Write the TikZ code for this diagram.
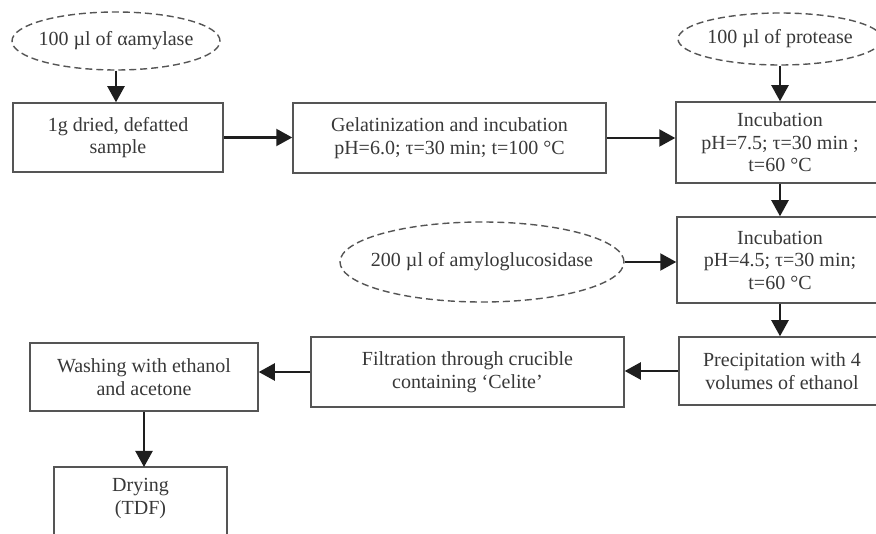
\documentclass[tikz,border=0pt]{standalone}
\usepackage{fontspec}
\setmainfont{Liberation Serif}
\usetikzlibrary{arrows.meta,shapes.geometric,calc}
\definecolor{boxc}{HTML}{555555}
\definecolor{txt}{HTML}{383838}
\definecolor{arrc}{HTML}{1E1E1E}
\begin{document}
\begin{tikzpicture}[x=1pt,y=-1pt,
  lbl/.style={align=center, text=txt, font=\fontsize{20}{22.5}\selectfont, inner sep=0pt},
  box/.style={lbl, draw=boxc, line width=1.5pt, rectangle},
  oval/.style={lbl, draw=boxc, ellipse, line width=1.4pt, dash pattern=on 7pt off 4pt},
  arr/.style={draw=arrc, line width=2.2pt, -{Triangle[length=16pt,width=17pt]}}
]
\useasboundingbox (0,0) rectangle (876,534);
\clip (0,0) rectangle (876,534);
\fill[white] (0,0) rectangle (876,534);

\node[oval, minimum width=208, minimum height=58] (e1) at (116,41) {\makebox[0pt]{100 µl of αamylase}};
\node[oval, minimum width=204, minimum height=52] (e2) at (780,39) {\makebox[0pt]{100 µl of protease}};
\node[oval, minimum width=284, minimum height=80] (e3) at (482,262) {\makebox[0pt]{200 µl of amyloglucosidase}};

\node[box, minimum width=210, minimum height=69] (b1) at (118,137.5) {1g dried, defatted\\sample};
\node[box, minimum width=313, minimum height=70] (b2) at (449.5,138) {Gelatinization and incubation\\pH=6.0; τ=30 min; t=100 °C};
\node[box, minimum width=208, minimum height=81] (b3) at (780,142.5) {Incubation\\pH=7.5; τ=30 min ;\\t=60 °C};
\node[box, minimum width=206, minimum height=86] (b4) at (780,260) {Incubation\\pH=4.5; τ=30 min;\\t=60 °C};
\node[box, minimum width=206, minimum height=68] (b5) at (782,371) {Precipitation with 4\\volumes of ethanol};
\node[box, minimum width=313, minimum height=70] (b6) at (467.5,372) {Filtration through crucible\\containing ‘Celite’};
\node[box, minimum width=228, minimum height=68] (b7) at (144,377) {Washing with ethanol\\and acetone};
\coordinate (dtop) at (140.5,467);
\draw[draw=boxc, line width=1.5pt] (54,467) rectangle (227,560);
\node[lbl] (b8) at (140.5,498.5) {Drying\\(TDF)};

\draw[arr] (e1.south) -- (e1.south |- b1.north);
\draw[arr] (b1.east) -- (b1.east -| b2.west);
\draw[arr] (b2.east) -- (b2.east -| b3.west);
\draw[arr] (e2.south) -- (e2.south |- b3.north);
\draw[arr] (b3.south) -- (b4.north);
\draw[arr] (e3.east) -- (e3.east -| b4.west);
\draw[arr] (b4.south) -- (b4.south |- b5.north);
\draw[arr] (b5.west) -- (b5.west -| b6.east);
\draw[arr] (b6.west) -- (b6.west -| b7.east);
\draw[arr] (b7.south) -- (b7.south |- dtop);
\end{tikzpicture}
\end{document}
